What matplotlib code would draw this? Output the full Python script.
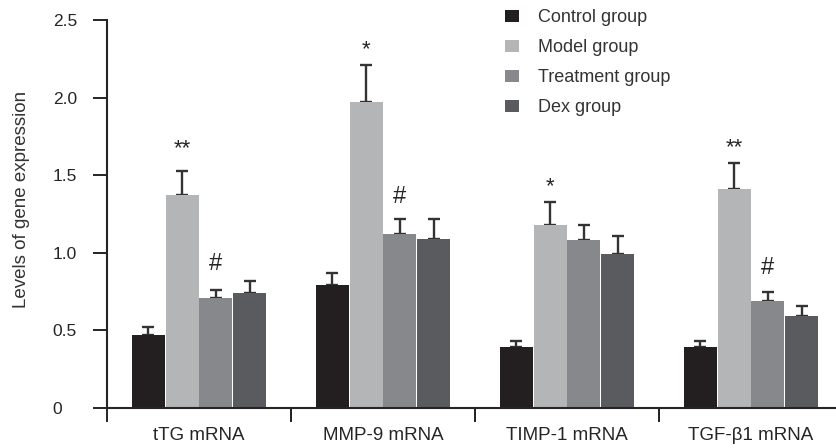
import numpy as np
import matplotlib.pyplot as plt
from matplotlib.patches import Patch

plt.rcParams['font.family'] = ['Liberation Sans', 'DejaVu Sans']

# ===== data =====
genes = ['tTG mRNA', 'MMP-9 mRNA', 'TIMP-1 mRNA', 'TGF-\u03b21 mRNA']
groups = ['Control group', 'Model group', 'Treatment group', 'Dex group']

control = [0.47, 0.79, 0.39, 0.39]
model = [1.37, 1.97, 1.18, 1.41]
treatment = [0.71, 1.12, 1.08, 0.69]
dex = [0.74, 1.09, 0.99, 0.59]

control_err = [0.05, 0.08, 0.04, 0.04]
model_err = [0.16, 0.24, 0.15, 0.17]
treatment_err = [0.05, 0.10, 0.10, 0.06]
dex_err = [0.08, 0.13, 0.12, 0.07]

# significance marks: (gene index, group index, text, gap above error bar)
marks = [(0, 1, '**', 0.07), (0, 2, '#', 0.10),
         (1, 1, '*', 0.03), (1, 2, '#', 0.07),
         (2, 1, '*', 0.03),
         (3, 1, '**', 0.03), (3, 2, '#', 0.08)]

# ===== plotting =====
colors = ['#231f20', '#b4b5b7', '#87888b', '#5a5b5e']
ink = '#252525'

fig = plt.figure(figsize=(8.36, 4.48), dpi=100)
ax = fig.add_axes([107 / 836, 1 - 408 / 448, 1 - 107 / 836, 388 / 448])

values = [control, model, treatment, dex]
errors = [control_err, model_err, treatment_err, dex_err]
x = np.arange(len(genes))
step = 0.183
width = 0.178

for j in range(len(groups)):
    pos = x + (j - 1.5) * step
    ax.bar(pos, values[j], width, color=colors[j], zorder=2)
    ax.errorbar(pos, values[j], yerr=[np.zeros(len(genes)), errors[j]],
                fmt='none', ecolor='#333333', elinewidth=1.7, capsize=4.5,
                capthick=1.7, zorder=1)

for gi, j, txt, gap in marks:
    top = values[j][gi] + errors[j][gi]
    size = 17 if txt == '#' else 16
    ax.text(x[gi] + (j - 1.5) * step, top + gap, txt, ha='center',
            va='bottom', fontsize=size, color=ink)

ax.set_xlim(-0.5, -0.5 + (836 - 107) / 184)
ax.set_ylim(0, 2.5)
ax.set_yticks([0, 0.5, 1.0, 1.5, 2.0, 2.5])
ax.set_yticklabels(['0', '0.5', '1.0', '1.5', '2.0', '2.5'])
ax.set_xticks(x)
ax.set_xticklabels(genes)
ax.set_xticks(np.append(x - 0.5, x[:-1] + 0.5), minor=True)

ax.tick_params(axis='x', which='major', length=0, pad=14, labelsize=13.5,
               labelcolor=ink)
ax.tick_params(axis='x', which='minor', length=10, width=1.4, color=ink,
               direction='out')
ax.tick_params(axis='y', length=10, width=1.4, color=ink, direction='out',
               pad=29, labelsize=12.5, labelcolor=ink)
for lab in ax.get_yticklabels():
    lab.set_horizontalalignment('left')

for side in ['top', 'right']:
    ax.spines[side].set_visible(False)
for side in ['left', 'bottom']:
    ax.spines[side].set_linewidth(1.5)
    ax.spines[side].set_color(ink)

fig.text(22 / 836, 1 - 199 / 448, 'Levels of gene expression', rotation=90,
         ha='center', va='center', fontsize=13.5, color='#333333')

handles = [Patch(facecolor=c, edgecolor='none') for c in colors]
ax.legend(handles, groups, loc='upper left', frameon=False,
          bbox_to_anchor=(505 / 836, 1 - 9 / 448),
          bbox_transform=fig.transFigure, fontsize=13, borderpad=0,
          borderaxespad=0, handlelength=0.8, handleheight=0.65,
          handletextpad=1.0, labelspacing=0.72, labelcolor='#333333')

fig.savefig('out.png', dpi=100)
